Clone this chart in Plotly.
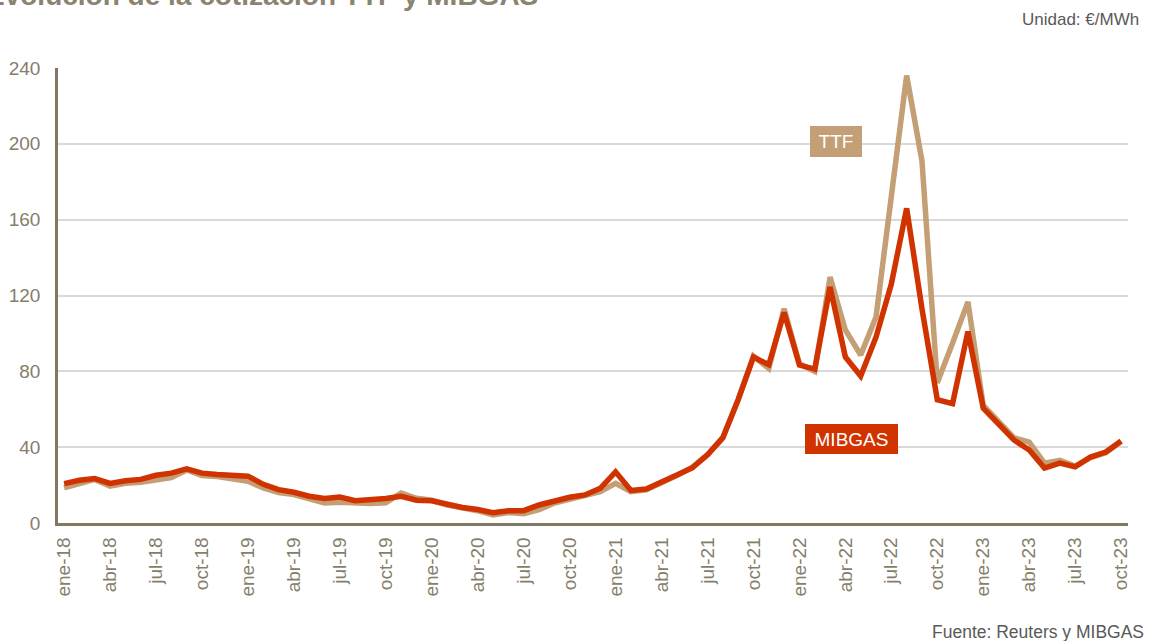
import plotly.graph_objects as go

month_names = ["ene", "feb", "mar", "abr", "may", "jun", "jul", "ago", "sep", "oct", "nov", "dic"]
years = ["18", "19", "20", "21", "22", "23"]
months = [f"{m}-{y}" for y in years for m in month_names][:70]
tick_labels = months[::3]

mibgas = [
    20.8, 22.5, 23.4, 20.9, 22.3, 23.0, 25.2, 26.3, 28.6, 26.3, 25.6, 25.0,
    24.7, 20.4, 17.6, 16.2, 14.1, 12.9, 13.7, 11.8, 12.0, 12.9, 14.1, 12.0,
    11.7, 9.8, 8.2, 7.1, 5.4, 6.5, 6.5, 9.5, 11.6, 13.6, 14.8, 18.3,
    27.0, 17.2, 17.9, 21.5, 24.8, 29.0, 36.0, 45.0, 65.0, 87.5, 83.5, 111.0,
    83.3, 81.2, 124.5, 87.6, 77.5, 98.0, 126.0, 166.0, 113.0, 65.0, 63.0, 101.0,
    60.6, 52.7, 43.8, 38.5, 29.0, 31.6, 29.6, 34.8, 37.4, 43.2,
]
ttf = [
    18.6, 21.0, 23.0, 19.5, 21.0, 21.5, 23.0, 24.0, 28.0, 25.0, 24.5, 23.5,
    22.0, 18.5, 16.0, 15.0, 12.5, 10.5, 11.0, 10.5, 10.3, 10.6, 15.8, 13.0,
    12.0, 9.5, 8.0, 6.5, 4.2, 5.5, 4.9, 7.0, 10.5, 12.5, 14.0, 16.5,
    20.9, 16.5, 17.5, 21.0, 25.0, 29.5, 36.0, 45.0, 65.0, 88.0, 81.5, 113.0,
    84.0, 80.0, 129.7, 101.8, 88.6, 108.6, 170.0, 236.0, 191.0, 74.0, 95.0, 116.6,
    62.0, 53.0, 45.0, 42.7, 31.6, 33.0, 30.0, 34.5, 37.0, 43.0,
]
y_ticks = [0, 40, 80, 120, 160, 200, 240]

TAN = "#C49E74"
RED = "#D03200"
AXIS = "#7F7863"
LABEL = "#857E6A"
FONT = "Arial, Liberation Sans, sans-serif"

fig = go.Figure()
fig.add_trace(go.Scatter(x=months, y=ttf, mode="lines", name="TTF",
                         line=dict(color=TAN, width=5.5)))
fig.add_trace(go.Scatter(x=months, y=mibgas, mode="lines", name="MIBGAS",
                         line=dict(color=RED, width=5.5)))

L, R, T, B = 58, 22, 68, 118
W, H = 1150, 641
pw, ph = W - L - R, H - T - B

def px(x):
    return (x - L) / pw

def py(y):
    return (H - B - y) / ph

fig.update_layout(
    width=W, height=H,
    margin=dict(l=L, r=R, t=T, b=B, autoexpand=False),
    paper_bgcolor="white", plot_bgcolor="white",
    showlegend=False,
    font=dict(family=FONT, size=19, color=LABEL),
    xaxis=dict(
        type="category", categoryorder="array", categoryarray=months,
        range=[-0.4, 69.45], automargin=False,
        tickmode="array", tickvals=tick_labels, ticktext=tick_labels,
        tickangle=-90, ticks="", showgrid=False, zeroline=False,
        showline=True, linecolor=AXIS, linewidth=2.5,
        tickfont=dict(size=19, color=LABEL, family=FONT),
        ticklabelstandoff=4,
    ),
    yaxis=dict(
        range=[0, 240], tickmode="array", tickvals=y_ticks, automargin=False,
        ticks="", showgrid=True, gridcolor="#D9D9D9", gridwidth=1.5,
        zeroline=False, showline=True, linecolor=AXIS, linewidth=2.5,
        tickfont=dict(size=19, color=LABEL, family=FONT),
        ticklabelstandoff=11,
    ),
)

annotations = [
    dict(text="Evolución de la cotización TTF y MIBGAS", xref="paper", yref="paper",
         x=px(540), y=py(-4), xanchor="right", yanchor="middle", showarrow=False,
         font=dict(family=FONT, size=28, color="#8A836F", weight="bold")),
    dict(text="Unidad: €/MWh", xref="paper", yref="paper",
         x=px(1141), y=py(20), xanchor="right", yanchor="middle", showarrow=False,
         font=dict(family=FONT, size=17, color="#595959")),
    dict(text="Fuente: Reuters y MIBGAS", xref="paper", yref="paper",
         x=px(1146), y=py(632), xanchor="right", yanchor="middle", showarrow=False,
         font=dict(family=FONT, size=17.5, color="#595959")),
    dict(text="TTF", xref="paper", yref="paper",
         x=px(836), y=py(141), xanchor="center", yanchor="middle", showarrow=False,
         bgcolor=TAN, width=52, height=31, borderpad=0, borderwidth=0,
         font=dict(family=FONT, size=19, color="white")),
    dict(text="MIBGAS", xref="paper", yref="paper",
         x=px(851.5), y=py(439), xanchor="center", yanchor="middle", showarrow=False,
         bgcolor=RED, width=93, height=30, borderpad=0, borderwidth=0,
         font=dict(family=FONT, size=19, color="white")),
]
fig.update_layout(annotations=annotations)

fig.write_html(
    "out.html",
    config={"displayModeBar": False},
    post_script="document.body.style.margin='0px';document.body.style.overflow='hidden';",
)
